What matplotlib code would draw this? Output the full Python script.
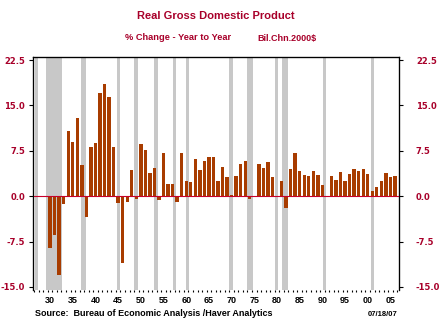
"""Real GDP annual % change bar chart, Haver style."""
import matplotlib
matplotlib.use('Agg')
import matplotlib.pyplot as plt
import numpy as np

# annual real GDP growth, % change year to year
years = list(range(1930, 2007))
growth = [
    -8.6, -6.4, -13.0, -1.3, 10.8, 8.9, 13.0, 5.1, -3.4, 8.1,      # 1930s
    8.8, 17.1, 18.5, 16.4, 8.1, -1.1, -11.0, -0.9, 4.4, -0.5,      # 1940s
    8.7, 7.7, 3.8, 4.6, -0.6, 7.2, 2.0, 2.0, -0.9, 7.2,            # 1950s
    2.5, 2.3, 6.1, 4.4, 5.8, 6.4, 6.5, 2.5, 4.8, 3.1,              # 1960s
    0.2, 3.4, 5.3, 5.8, -0.5, -0.2, 5.3, 4.6, 5.6, 3.2,            # 1970s
    -0.2, 2.5, -1.9, 4.5, 7.2, 4.1, 3.5, 3.4, 4.1, 3.5,            # 1980s
    1.9, -0.2, 3.3, 2.7, 4.0, 2.5, 3.7, 4.5, 4.2, 4.5,             # 1990s
    3.7, 0.8, 1.6, 2.5, 3.9, 3.2, 3.3,                             # 2000s
]

# recession periods (decimal years)
rec_start = [1927.15, 1929.6, 1937.3, 1945.15, 1948.95, 1953.5, 1957.55,
             1960.4, 1969.9, 1973.85, 1980.0, 1981.55, 1990.55, 2001.2]
rec_end = [1927.8, 1933.15, 1938.45, 1945.9, 1949.85, 1954.3, 1958.3,
           1961.1, 1970.85, 1975.2, 1980.7, 1982.9, 1991.3, 2001.85]

yticks = [-15.0, -7.5, 0.0, 7.5, 15.0, 22.5]
xlabel_years = list(range(1930, 2006, 5))

RED = '#A8002A'
BAR = '#A83C00'

fig = plt.figure(figsize=(4.41, 3.25), dpi=100)
ax = fig.add_axes([0.0755, 0.1077, 0.8299, 0.7169])

for s, e in zip(rec_start, rec_end):
    ax.axvspan(s, e, color='#C8C8C8', lw=0, zorder=0)

x = np.array(years) + 0.5
ax.bar(x, growth, width=0.74, color=BAR, zorder=2)
ax.axhline(0, color='#C8002A', lw=0.8, zorder=3)

ax.set_xlim(1926.8, 2007.45)
ax.set_ylim(-15.5, 23.0)

ax.spines['bottom'].set_visible(False)
for sp in ['top', 'left', 'right']:
    ax.spines[sp].set_linewidth(0.9)

# y axis, labels on both sides
ax.set_yticks(yticks)
ax.set_yticklabels([f'{v:.1f}' for v in yticks])
ax.tick_params(axis='y', direction='out', length=3, width=0.8, pad=3,
               labelcolor=RED, labelsize=6)
ax2 = ax.twinx()
ax2.set_ylim(ax.get_ylim())
ax2.set_yticks(yticks)
ax2.set_yticklabels([f'{v:.1f}' for v in yticks])
ax2.tick_params(axis='y', direction='out', length=3, width=0.8, pad=9,
                labelcolor=RED, labelsize=6)
for a in (ax, ax2):
    for lab in a.get_yticklabels():
        lab.set_fontweight('bold')
        lab.set_family('DejaVu Sans')
ax2.spines['bottom'].set_visible(False)

# x axis: dotted year ticks, labels centred in the year
ax.set_xticks([y + 0.5 for y in xlabel_years])
ax.set_xticklabels([f'{y % 100:02d}' for y in xlabel_years])
ax.set_xticks(range(1927, 2008), minor=True)
ax.tick_params(axis='x', which='major', length=0, pad=4, labelsize=6.5)
ax.tick_params(axis='x', which='minor', length=1.5, width=0.8, direction='out')
for lab in ax.get_xticklabels():
    lab.set_fontweight('bold')
    lab.set_family('Liberation Sans')

fig.text(0.49, 1 - 16 / 325, 'Real Gross Domestic Product', ha='center', va='center',
         color=RED, fontsize=8, fontweight='bold', family='Liberation Sans')
fig.text(125 / 441, 1 - 38 / 325, '% Change - Year to Year', ha='left', va='center',
         color=RED, fontsize=6.7, fontweight='bold', family='Liberation Sans')
fig.text(257 / 441, 1 - 38 / 325, 'Bil.Chn.2000$', ha='left', va='center',
         color=RED, fontsize=6.5, fontweight='bold', family='Liberation Sans')
fig.text(35 / 441, 1 - 313 / 325, 'Source:  Bureau of Economic Analysis /Haver Analytics',
         ha='left', va='center', fontsize=6.5, fontweight='bold', family='Liberation Sans')
fig.text(397 / 441, 1 - 315 / 325, '07/18/07', ha='right', va='center',
         fontsize=5.5, fontweight='bold', family='Liberation Sans')

plt.savefig('out.png', dpi=100)
plt.close()
